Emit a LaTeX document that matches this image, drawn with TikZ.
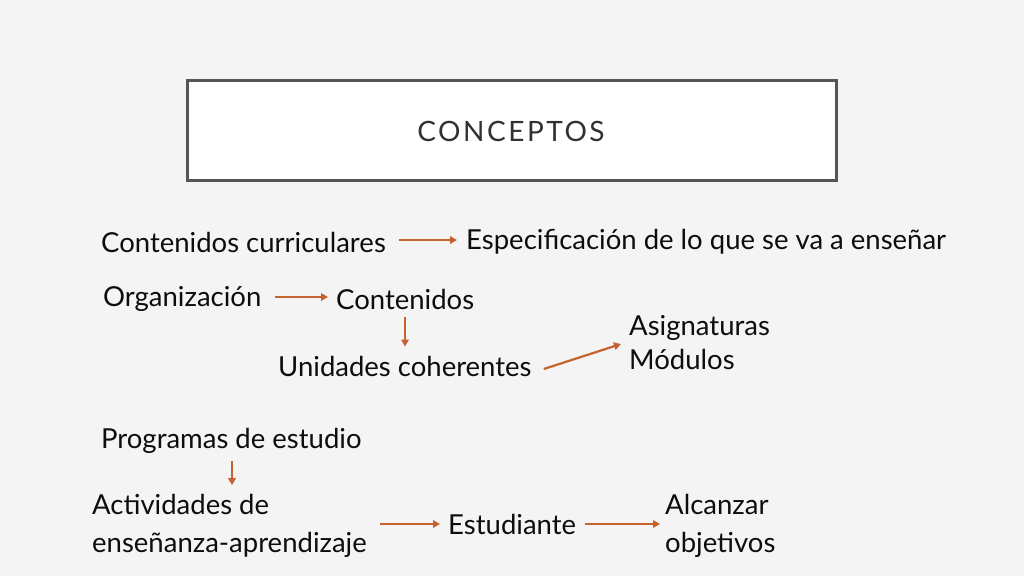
\documentclass[tikz,border=0pt]{standalone}
\usepackage{fontspec}
\setmainfont{Lato}
\usetikzlibrary{arrows.meta}
\definecolor{bgc}{HTML}{F4F4F4}
\definecolor{boxline}{HTML}{555555}
\definecolor{arr}{HTML}{C5622E}
\definecolor{txt}{HTML}{0D0D0D}
\tikzset{
  lbl/.style={anchor=west, inner sep=0pt, text=txt, font=\fontsize{27.5}{38}\selectfont, align=left},
  conn/.style={draw=arr, line width=2.2pt, -{Triangle[length=7pt,width=7.5pt]}},
}
\begin{document}
\begin{tikzpicture}[x=1pt,y=-1pt]
\fill[bgc] (0,0) rectangle (1024,576);
\useasboundingbox (0,0) rectangle (1024,576);
\node[draw=boxline, line width=3pt, fill=white, minimum width=649pt, minimum height=100pt, inner sep=0pt] (title) at (512,130.5) {};
\node[text=txt!85, font=\fontsize{28}{30}\selectfont, inner sep=0pt] (tt) at (511,131) {\addfontfeatures{LetterSpace=9}CONCEPTOS};

\node[lbl] (cc) at (101,242) {Contenidos curriculares};
\node[lbl] (esp) at (466,242) {Especificación de lo que se va a enseñar};
\node[lbl] (org) at (103,299) {Organización};
\node[lbl] (cont) at (336,299) {Contenidos};
\node[lbl] (uni) at (278,366) {Unidades coherentes};
\node[lbl, font=\fontsize{27.5}{34}\selectfont] (asig) at (629,343) {Asignaturas\\Módulos};
\node[lbl] (prog) at (101,441) {Programas de estudio};
\node[lbl] (act) at (92,526) {Actividades de\\enseñanza-aprendizaje};
\node[lbl] (est) at (448,524) {Estudiante};
\node[lbl] (alc) at (665,526) {Alcanzar\\objetivos};

\draw[conn] ([xshift=13pt]cc.east |- 0,240) -- ([xshift=-9pt]esp.west |- 0,240);
\draw[conn] ([xshift=13pt]org.east |- 0,297) -- ([xshift=-8pt]cont.west |- 0,297);
\draw[conn] (cont.south -| 405,0) ++(0,8) -- ([yshift=9pt]uni.north -| 405,0);
\draw[conn] ([xshift=12pt,yshift=-3pt]uni.east) -- ([xshift=-8pt,yshift=-1pt]asig.west);
\draw[conn] ([yshift=-7pt]prog.south -| 232,0) -- ([yshift=9pt]act.north -| 232,0);
\draw[conn] ([xshift=-68pt]est.west) -- ([xshift=-8pt]est.west);
\draw[conn] ([xshift=9pt]est.east) -- ([xshift=-5pt]alc.west |- est.west);
\end{tikzpicture}
\end{document}
